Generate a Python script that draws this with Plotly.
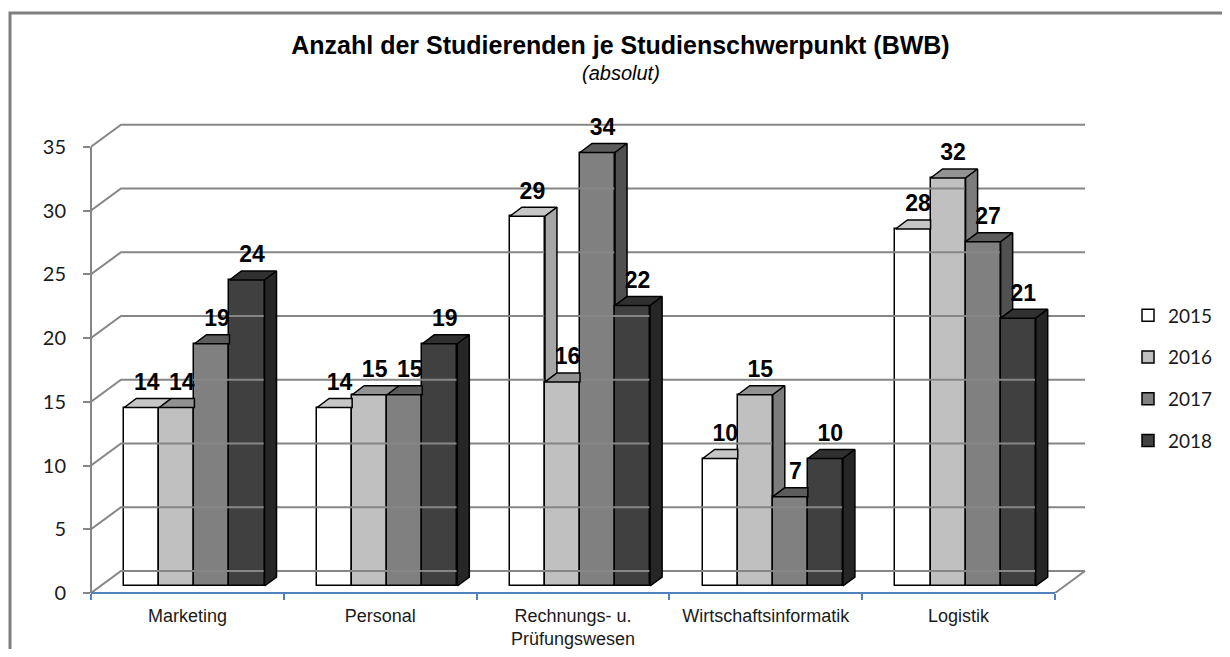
import plotly.graph_objects as go

# ---------------- data ----------------
categories = ["Marketing", "Personal", "Rechnungs- u.<br>Prüfungswesen",
              "Wirtschaftsinformatik", "Logistik"]
years = ["2015", "2016", "2017", "2018"]
v2015 = [14, 14, 29, 10, 28]
v2016 = [14, 15, 16, 15, 32]
v2017 = [19, 15, 34, 7, 27]
v2018 = [24, 19, 22, 10, 21]
y_ticks = [0, 5, 10, 15, 20, 25, 30, 35]

series = [v2015, v2016, v2017, v2018]

# ---------------- styles ----------------
front_colors = ["#ffffff", "#c0c0c0", "#808080", "#404040"]
top_colors = ["#c6c6c6", "#929292", "#5c5c5c", "#303030"]
side_colors = ["#a6a6a6", "#7c7c7c", "#505050", "#262626"]
edge = dict(color="#000000", width=1.5)
grid_color = "#868686"
axis_blue = "#4f81bd"
SANS = "Liberation Sans, Arial, sans-serif"
CAL = "Lato, Carlito, Calibri, sans-serif"

# ---------------- geometry (pixel layout of the page -> axis units) ----------------
PAGE_W, PAGE_H = 1230, 657
BODY = 8                                   # default page margin around the figure
W, H = PAGE_W - 2 * BODY, PAGE_H - 2 * BODY
PL, PR, PT, PB = 91, 1100, 100, 593        # plot area in page pixels
PX_CAT = 192.8                             # pixels per category
PX_UNIT = 12.75                            # pixels per value unit


def cx(px):
    return px / PX_CAT


def cy(px):
    return px / PX_UNIT


def paper_x(px):
    return (px - PL) / (PR - PL)


def paper_y(px):
    return (PB - px) / (PB - PT)


x_start = -0.5
x_range = [x_start, x_start + (PR - PL) / PX_CAT]
y_range = [0, (PB - PT) / PX_UNIT]
n_cat = len(categories)

wall_dx, wall_dy = cx(30), cy(22)      # depth of walls / floor
off_dx, off_dy = cx(7), cy(7)          # bars sit a bit behind the front plane
bar_dx, bar_dy = cx(12), cy(9)         # depth of each bar
bar_w = 1 / 5.5                        # gap width 150 %
label_dx, label_dy = cx(5), cy(14.5)

fig = go.Figure()

# ---------------- walls / grid (from tick values) ----------------
gx, gy = [], []
for t in y_ticks:
    gx += [x_start, x_start + wall_dx, x_start + n_cat + wall_dx, None]
    gy += [t, t + wall_dy, t + wall_dy, None]
# right edge of the floor
gx += [x_start + n_cat, x_start + n_cat + wall_dx, None]
gy += [0, wall_dy, None]
fig.add_trace(go.Scatter(x=gx, y=gy, mode="lines",
                         line=dict(color=grid_color, width=2),
                         hoverinfo="skip", showlegend=False))

# ---------------- front faces (bars) ----------------
centers = []
for k, vals in enumerate(series):
    xs = [i + off_dx + (k - 1.5) * bar_w for i in range(n_cat)]
    centers.append(xs)
    fig.add_trace(go.Bar(
        x=xs, y=vals, base=off_dy, width=bar_w, name=years[k],
        legendgroup=years[k],
        marker=dict(color=front_colors[k], line=edge),
        hovertemplate="%{y}<extra>" + years[k] + "</extra>",
    ))

# ---------------- top and side faces ----------------
for k, vals in enumerate(series):
    tx, ty, sx, sy = [], [], [], []
    for i in range(n_cat):
        c = centers[k][i]
        xl, xr = c - bar_w / 2, c + bar_w / 2
        b = off_dy
        t = vals[i] + off_dy
        nxt = series[k + 1][i] + off_dy if k + 1 < len(series) else None
        # top face (cut where the next, taller bar hides it)
        if nxt is not None and nxt > t:
            pts = [(xl, t), (xr, t), (xr, t + bar_dy), (xl + bar_dx, t + bar_dy)]
        else:
            pts = [(xl, t), (xr, t), (xr + bar_dx, t + bar_dy), (xl + bar_dx, t + bar_dy)]
        pts.append(pts[0])
        tx += [p[0] for p in pts] + [None]
        ty += [p[1] for p in pts] + [None]
        # side face (only the part not hidden by the next bar)
        if nxt is None:
            lo = b
        elif nxt >= t:
            lo = None
        else:
            lo = nxt
        if lo is not None:
            pts = [(xr, lo), (xr + bar_dx, lo + bar_dy), (xr + bar_dx, t + bar_dy), (xr, t)]
            pts.append(pts[0])
            sx += [p[0] for p in pts] + [None]
            sy += [p[1] for p in pts] + [None]
    fig.add_trace(go.Scatter(x=tx, y=ty, mode="lines", fill="toself",
                             fillcolor=top_colors[k], line=edge,
                             hoverinfo="skip", showlegend=False,
                             legendgroup=years[k]))
    if sx:
        fig.add_trace(go.Scatter(x=sx, y=sy, mode="lines", fill="toself",
                                 fillcolor=side_colors[k], line=edge,
                                 hoverinfo="skip", showlegend=False,
                                 legendgroup=years[k]))

# ---------------- data labels ----------------
for k, vals in enumerate(series):
    fig.add_trace(go.Scatter(
        x=[c + label_dx for c in centers[k]],
        y=[v + off_dy + bar_dy + label_dy for v in vals],
        mode="text", text=[str(v) for v in vals], textposition="middle center",
        textfont=dict(family=SANS, size=23, color="#000000", weight="bold"),
        hoverinfo="skip", showlegend=False, cliponaxis=False,
        legendgroup=years[k]))

# ---------------- layout ----------------
fig.update_layout(
    width=W, height=H,
    margin=dict(l=PL - BODY, r=W - (PR - BODY), t=PT - BODY, b=H - (PB - BODY),
                autoexpand=False),
    paper_bgcolor="#ffffff", plot_bgcolor="#ffffff",
    barmode="overlay", bargap=0,
    title=dict(text="Anzahl der Studierenden je Studienschwerpunkt (BWB)",
               x=(620.5 - BODY) / W, xanchor="center", xref="container",
               y=1 - (45.5 - BODY) / H, yanchor="middle", yref="container",
               font=dict(family=SANS, size=25, color="#000000", weight="bold")),
    xaxis=dict(range=x_range, tickmode="array", tickvals=list(range(n_cat)),
               ticktext=categories, ticks="", showgrid=False, zeroline=False,
               showline=False, ticklabelstandoff=10,
               tickfont=dict(family=SANS, size=18, color="#1a1a1a"),
               minor=dict(tickmode="array",
                          tickvals=[x_start + i for i in range(n_cat + 1)],
                          ticks="outside", ticklen=6, tickwidth=2,
                          tickcolor=axis_blue, showgrid=False)),
    yaxis=dict(range=y_range, tickmode="array", tickvals=y_ticks,
               ticks="outside", ticklen=7, tickwidth=2, tickcolor=grid_color,
               showgrid=False, zeroline=False, showline=False,
               ticklabelstandoff=13,
               tickfont=dict(family=CAL, size=20, color="#1a1a1a")),
    legend=dict(x=paper_x(1128), xanchor="left", y=paper_y(378), yanchor="middle",
                font=dict(family=CAL, size=19, color="#1a1a1a"),
                tracegroupgap=14, traceorder="grouped",
                bgcolor="rgba(0,0,0,0)"),
    annotations=[dict(text="<i>(absolut)</i>", xref="paper", yref="paper",
                      x=paper_x(621), y=paper_y(73), xanchor="center",
                      yanchor="middle", showarrow=False,
                      font=dict(family=SANS, size=20, color="#000000"))],
    shapes=[
        # outer chart border (runs on beyond the picture to the right and bottom)
        dict(type="rect", xref="paper", yref="paper",
             x0=paper_x(10), x1=paper_x(PAGE_W + 30), y0=paper_y(PAGE_H + 30),
             y1=paper_y(13), line=dict(color="#7f7f7f", width=3), layer="below"),
        # vertical value axis line
        dict(type="line", xref="paper", yref="y", x0=0, x1=0, y0=0, y1=y_ticks[-1],
             line=dict(color=grid_color, width=2)),
        # category axis line
        dict(type="line", xref="x", yref="paper", x0=x_start, x1=x_start + n_cat,
             y0=0, y1=0, line=dict(color=axis_blue, width=2)),
    ],
    hovermode="closest",
)

fig.write_html("out.html")
